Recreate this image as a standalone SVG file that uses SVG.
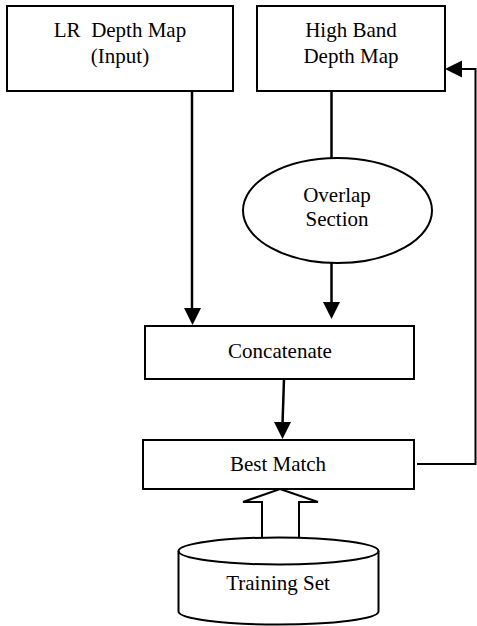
<svg xmlns="http://www.w3.org/2000/svg" width="477" height="626" viewBox="0 0 477 626">
<defs>
<style>
.box{fill:#fff;stroke:#000;stroke-width:2}
.t{font-family:"Liberation Serif","Times New Roman",serif;font-size:21px;fill:#000;text-anchor:middle}
.ln{fill:none;stroke:#000;stroke-width:2.5}
.hd{fill:#000;stroke:none}
</style>
</defs>
<rect width="477" height="626" fill="#fff"/>
<g id="connectors">
<line class="ln" x1="192" y1="91" x2="192" y2="310"/>
<polygon class="hd" points="184,308 201,308 192.5,325"/>
<line class="ln" x1="331.5" y1="91" x2="331.5" y2="158"/>
<line class="ln" x1="331.5" y1="263" x2="331.5" y2="304"/>
<polygon class="hd" points="323,302 340,302 331.5,319"/>
<line class="ln" x1="284" y1="379" x2="282.5" y2="424"/>
<polygon class="hd" points="274,422 291,422 282.5,439"/>
<polyline fill="none" stroke="#000" stroke-width="2" points="417,464 475.5,464 475.5,69 460,69"/>
<polygon class="hd" points="462,60.5 462,77.5 445,69"/>
<polygon fill="#fff" stroke="#000" stroke-width="2" points="280,489 318,502 299,502 299,538 262,538 262,502 243,502"/>
</g>
<g id="lr">
<rect class="box" x="7" y="6" width="226" height="85"/>
<text class="t" x="120" y="37" xml:space="preserve">LR  Depth Map</text>
<text class="t" x="120" y="63">(Input)</text>
</g>
<g id="highband">
<rect class="box" x="257" y="6" width="188" height="85"/>
<text class="t" x="351" y="37">High Band</text>
<text class="t" x="351" y="63">Depth Map</text>
</g>
<g id="overlap">
<ellipse class="box" cx="337.5" cy="210.5" rx="94.5" ry="52.5"/>
<text class="t" x="337" y="202">Overlap</text>
<text class="t" x="337" y="226">Section</text>
</g>
<g id="concatenate">
<rect class="box" x="145" y="326" width="269" height="53"/>
<text class="t" x="280" y="358">Concatenate</text>
</g>
<g id="bestmatch">
<rect class="box" x="143" y="440" width="271" height="49"/>
<text class="t" x="278" y="471">Best Match</text>
</g>
<g id="training">
<path class="box" d="M178.5,551 L178.5,611.5 A100,13 0 0 0 378.5,611.5 L378.5,551 A100,13.5 0 0 0 178.5,551 Z"/>
<path fill="none" stroke="#000" stroke-width="2" d="M178.5,551 A100,13.5 0 0 0 378.5,551"/>
<text class="t" x="278" y="590">Training Set</text>
</g>
</svg>
